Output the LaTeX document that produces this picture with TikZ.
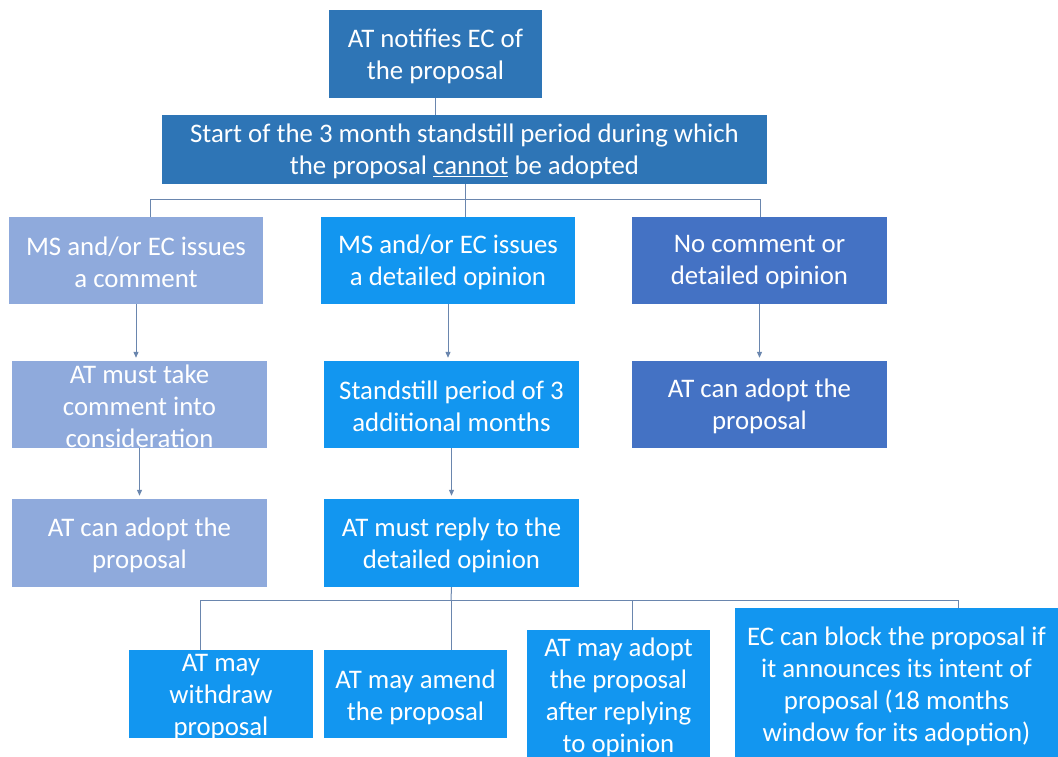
\documentclass[tikz,border=0pt]{standalone}
\usepackage{fontspec}
\setmainfont{Carlito}
\usetikzlibrary{arrows.meta}
\definecolor{cdark}{HTML}{2E75B6}
\definecolor{clight}{HTML}{8FAADC}
\definecolor{cbright}{HTML}{1296F0}
\definecolor{croyal}{HTML}{4472C4}
\definecolor{cline}{HTML}{6A86AE}
\tikzset{
  box/.style={draw=none, inner sep=0pt, anchor=center},
  txt/.style={text=white, align=center, inner sep=0pt, font=\fontsize{26.8}{32}\selectfont},
  conn/.style={draw=cline, line width=1pt},
  arr/.style={conn, -{Triangle[length=6pt,width=5pt]}, shorten >=3pt},
}
\begin{document}
\begin{tikzpicture}[x=1pt,y=-1pt]
\useasboundingbox (0,0) rectangle (1058,757);
\fill[white] (0,0) rectangle (1058,757);
% boxes
\node[box, fill=cdark, minimum width=213pt, minimum height=88pt] (top) at (435.5,54) {};
\node[txt] at (435.5,56) {AT notifies EC of\\the proposal};
\node[box, fill=cdark, minimum width=605pt, minimum height=69pt] (start) at (464.5,149.5) {};
\node[txt] at (464.5,151) {Start of the 3 month standstill period during which\\the proposal \underline{cannot} be adopted};

\node[box, fill=clight, minimum width=254pt, minimum height=87pt] (cmt) at (136,260.5) {};
\node[txt] at (136,262) {MS and/or EC issues\\a comment};
\node[box, fill=cbright, minimum width=254pt, minimum height=87pt] (det) at (448,260.5) {};
\node[txt] at (448,262) {MS and/or EC issues\\a detailed opinion};
\node[box, fill=croyal, minimum width=255pt, minimum height=87pt] (none) at (759.5,260.5) {};
\node[txt] at (759.5,262) {No comment or\\detailed opinion};

\node[box, fill=clight, minimum width=255pt, minimum height=87pt] (take) at (139.5,404.5) {};
\node[txt] at (139.5,406) {AT must take\\comment into\\consideration};
\node[box, fill=cbright, minimum width=255pt, minimum height=87pt] (still) at (451.5,404.5) {};
\node[txt] at (451.5,406) {Standstill period of 3\\additional months};
\node[box, fill=croyal, minimum width=255pt, minimum height=87pt] (adoptR) at (759.5,404.5) {};
\node[txt] at (759.5,406) {AT can adopt the\\proposal};

\node[box, fill=clight, minimum width=255pt, minimum height=88pt] (adoptL) at (139.5,543) {};
\node[txt] at (139.5,545) {AT can adopt the\\proposal};
\node[box, fill=cbright, minimum width=255pt, minimum height=88pt] (reply) at (451.5,543) {};
\node[txt] at (451.5,545) {AT must reply to the\\detailed opinion};

\node[box, fill=cbright, minimum width=184pt, minimum height=88pt] (wd) at (221,694) {};
\node[txt] at (221,697) {AT may\\withdraw\\proposal};
\node[box, fill=cbright, minimum width=183pt, minimum height=88pt] (am) at (415.5,694) {};
\node[txt] at (415.5,697) {AT may amend\\the proposal};
\node[box, fill=cbright, minimum width=183pt, minimum height=127pt] (ad) at (618.5,693.5) {};
\node[txt] at (618.5,697) {AT may adopt\\the proposal\\after replying\\to opinion};
\node[box, fill=cbright, minimum width=323pt, minimum height=149pt] (blk) at (896.5,682.5) {};
\node[txt] at (896.5,686) {EC can block the proposal if\\it announces its intent of\\proposal (18 months\\window for its adoption)};

% connectors
\coordinate (j1) at (465,199);
\coordinate (j2) at (451,600);
\draw[conn] (top.south) -- (top.south |- start.north);
\draw[conn] (j1 |- start.south) -- (j1);
\draw[conn] (150,199) -- (760,199);
\draw[conn] (150,199) -- (150,0 |- cmt.north);
\draw[conn] (j1) -- (j1 |- det.north);
\draw[conn] (760,199) -- (760,0 |- none.north);
\draw[arr] (cmt.south) -- (cmt.south |- take.north);
\draw[arr] (det.south) -- (det.south |- still.north);
\draw[arr] (none.south) -- (none.south |- adoptR.north);
\draw[arr] (take.south) -- (take.south |- adoptL.north);
\draw[arr] (still.south) -- (still.south |- reply.north);
\draw[conn] (reply.south) -- (j2);
\draw[conn] (200,600) -- (958,600);
\draw[conn] (200,600) -- (200,0 |- wd.north);
\draw[conn] (j2) -- (j2 |- am.north);
\draw[conn] (632,600) -- (632,0 |- ad.north);
\draw[conn] (958,600) -- (958,0 |- blk.north);
\end{tikzpicture}
\end{document}
